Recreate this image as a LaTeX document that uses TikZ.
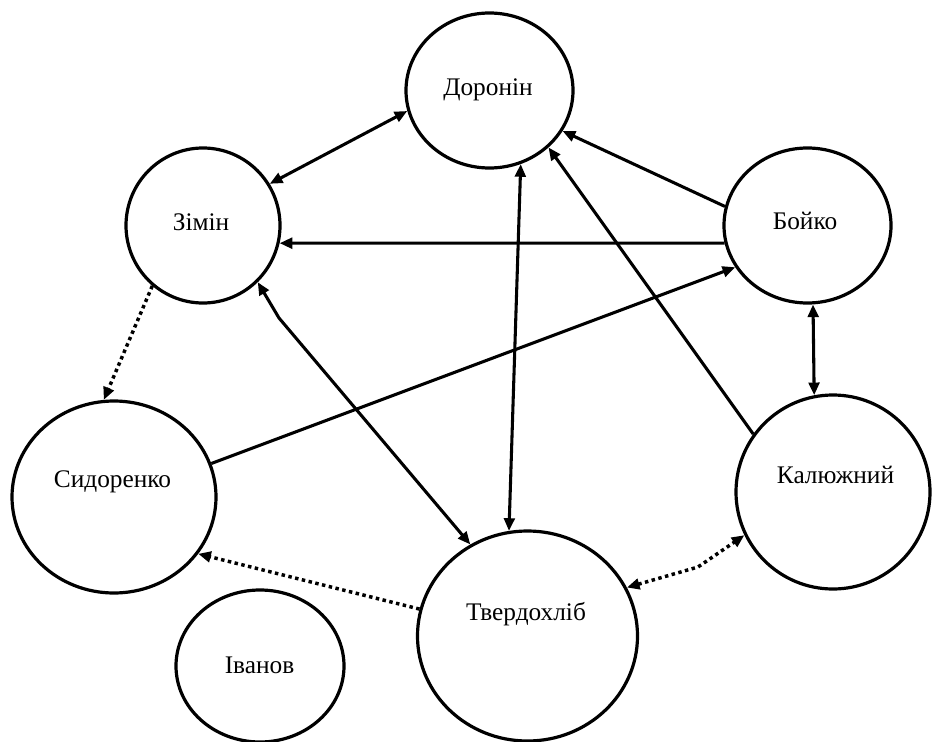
\documentclass[tikz,border=0pt]{standalone}
\usepackage{fontspec}
\setmainfont{Liberation Serif}
\newfontfamily\lblfont{LiberationSerif}[Extension=.ttf, UprightFont=*-Regular]
\usetikzlibrary{arrows.meta,shapes.geometric}
\begin{document}
\begin{tikzpicture}[x=0.75pt,y=-0.75pt,
  person/.style={ellipse, draw, line width=2.4pt, inner sep=0pt},
  lbl/.style={anchor=base, font=\lblfont\fontsize{19}{22}\selectfont},
  link/.style={line width=2.3pt},
  dotline/.style={line width=2.6pt, dash pattern=on 2.6pt off 2.6pt},
  oneway/.style={-{Triangle[length=9.5pt,width=8pt]}},
  twoway/.style={{Triangle[length=9.5pt,width=8pt]}-{Triangle[length=9.5pt,width=8pt]}}]
\useasboundingbox (0,0) rectangle (932,742);

\node[person, minimum width=125.25pt, minimum height=116.25pt] (D) at (489.5,90.5) {};
\node[person, minimum width=115.5pt, minimum height=116.25pt] (Z) at (203,225.5) {};
\node[person, minimum width=125.25pt, minimum height=116.25pt] (B) at (807.5,225.5) {};
\node[person, minimum width=153pt, minimum height=144pt] (S) at (114,497) {};
\node[person, minimum width=145.5pt, minimum height=145.5pt] (K) at (833,492) {};
\node[person, minimum width=165pt, minimum height=157.5pt] (T) at (527.5,636) {};
\node[person, minimum width=126pt, minimum height=114pt] (I) at (260,666) {};

\node[lbl] (Dt) at (488,95) {Доронін};
\node[lbl] (Zt) at (201,230) {Зімін};
\node[lbl] (Bt) at (805,229) {Бойко};
\node[lbl] (St) at (112.5,487) {Сидоренко};
\node[lbl] (Kt) at (835.5,483) {Калюжний};
\node[lbl] (Tt) at (526,620) {Твердохліб};
\node[lbl] (It) at (259.5,673) {Іванов};

\coordinate (zt) at (279,318);
\coordinate (tk) at (698,567);

\draw[link,twoway] (Z.32) -- (D.194.7);
\draw[link,oneway] (B.167.2) -- (D.-29.2);
\draw[link,oneway] (B.192.5) -- (Z.-13.5);
\draw[link,oneway] (S.19.8) -- (B.210);
\draw[link,oneway] (K.144.5) -- (D.-44.1);
\draw[link,twoway] (B.-86) -- (K.101.6);
\draw[link,twoway] (D.-67.9) -- (T.100.5);
\draw[link,twoway] (Z.-46.8) -- (zt) -- (T.122.7);
\draw[dotline,oneway] (Z.230.8) -- (S.96.4);
\draw[dotline,oneway] (T.166.6) -- (S.-34.7);
\draw[dotline,twoway] (T.26) -- (tk) -- (K.206);
\end{tikzpicture}
\end{document}
